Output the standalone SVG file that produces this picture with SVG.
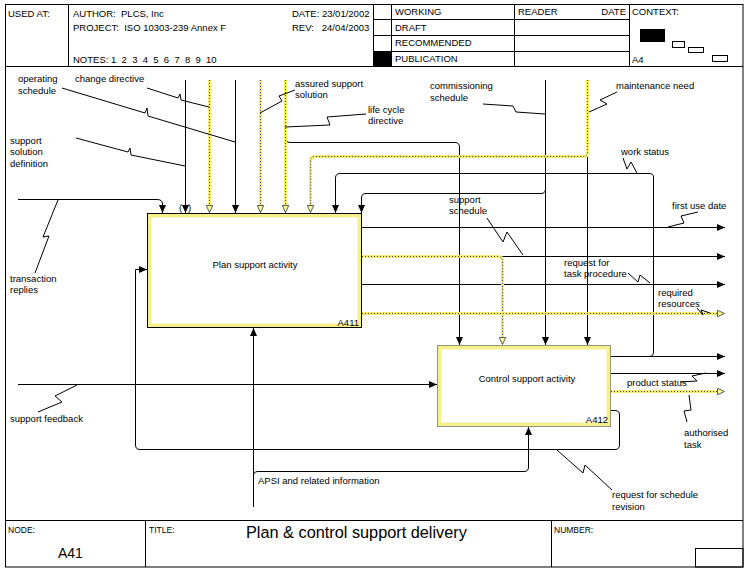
<svg xmlns="http://www.w3.org/2000/svg" width="755" height="579" viewBox="0 0 755 579">
<style>
text{font-family:"Liberation Sans",Arial,sans-serif;font-size:9.5px;fill:#000;white-space:pre}
.f{fill:none;stroke:#000;stroke-width:1}
.k{fill:none;stroke:#000;stroke-width:1}
.yb{fill:none;stroke:#f3ec70;stroke-width:3}
.yd{fill:none;stroke:#444;stroke-width:1;stroke-dasharray:1 2}
.ld{fill:none;stroke:#000;stroke-width:1}
.sm{font-size:8.5px}
.bx{font-size:9.5px;text-anchor:middle}
</style>
<defs>
<marker id="ab" viewBox="0 0 8 8" refX="8" refY="4" markerWidth="8" markerHeight="8" orient="auto" markerUnits="userSpaceOnUse"><path d="M0,0.5 L8,4 L0,7.5 z" fill="#000"/></marker>
<marker id="ay" viewBox="0 0 8 8" refX="8" refY="4" markerWidth="8" markerHeight="8" orient="auto" markerUnits="userSpaceOnUse"><path d="M0.5,0.8 L7.5,4 L0.5,7.2 z" fill="#ffff99" stroke="#333" stroke-width="0.8"/></marker>
</defs>
<rect width="755" height="579" fill="#fff"/>
<g id="frame">
<rect class="f" x="5.5" y="4.5" width="737.5" height="562.5"/>
<line class="f" x1="5" y1="66.5" x2="743" y2="66.5"/>
<line class="f" x1="68.5" y1="4" x2="68.5" y2="66"/>
<line class="f" x1="373.5" y1="4" x2="373.5" y2="66"/>
<line class="f" x1="391.5" y1="4" x2="391.5" y2="66"/>
<line class="f" x1="514.5" y1="4" x2="514.5" y2="66"/>
<line class="f" x1="629.5" y1="4" x2="629.5" y2="66"/>
<line class="f" x1="373" y1="19.5" x2="629" y2="19.5"/>
<line class="f" x1="373" y1="35.5" x2="629" y2="35.5"/>
<line class="f" x1="373" y1="51.5" x2="629" y2="51.5"/>
<rect x="374" y="52" width="17" height="14" fill="#000"/>
<rect x="640" y="29" width="25" height="13" fill="#000"/>
<rect class="f" x="672.5" y="41.5" width="12" height="6"/>
<rect class="f" x="688.5" y="47.5" width="15" height="5"/>
<rect class="f" x="712.5" y="55.5" width="15" height="6"/>
<text x="8" y="17">USED AT:</text>
<text x="73" y="17">AUTHOR:  PLCS, Inc</text>
<text x="292" y="17">DATE: 23/01/2002</text>
<text x="73" y="31">PROJECT:  ISO 10303-239 Annex F</text>
<text x="292" y="31">REV:   24/04/2003</text>
<text x="73" y="63">NOTES: 1  2  3  4  5  6  7  8  9  10</text>
<text x="395" y="15">WORKING</text>
<text x="395" y="31">DRAFT</text>
<text x="395" y="46">RECOMMENDED</text>
<text x="395" y="62">PUBLICATION</text>
<text x="518" y="15">READER</text>
<text x="626" y="15" text-anchor="end">DATE</text>
<text x="632" y="15">CONTEXT:</text>
<text x="632" y="63">A4</text>
<line class="f" x1="5" y1="520.5" x2="743" y2="520.5"/>
<line class="f" x1="145.5" y1="520" x2="145.5" y2="567"/>
<line class="f" x1="551.5" y1="520" x2="551.5" y2="567"/>
<rect class="f" x="695.5" y="548.5" width="47.5" height="18.5"/>
<text class="sm" x="8" y="533">NODE:</text>
<text x="58" y="558" style="font-size:14px">A41</text>
<text class="sm" x="149" y="533">TITLE:</text>
<text x="246" y="538" style="font-size:16.3px">Plan &amp; control support delivery</text>
<text class="sm" x="554" y="533">NUMBER:</text>
</g>
<g id="plan">
<rect x="149.5" y="215.5" width="210" height="110" fill="none" stroke="#f5f08c" stroke-width="4"/>
<rect class="f" x="147.5" y="213.5" width="214" height="114"/>
<text class="bx" x="255" y="268">Plan support activity</text>
<text x="359" y="326" text-anchor="end">A411</text>
</g>
<g id="control">
<rect x="439.5" y="347.5" width="169" height="77" fill="none" stroke="#f5f08c" stroke-width="4"/>
<rect x="437.5" y="345.5" width="173" height="81" fill="none" stroke="#333" stroke-width="1" stroke-dasharray="1 1"/>
<text class="bx" x="527" y="382">Control support activity</text>
<text x="608" y="423" text-anchor="end">A412</text>
</g>
<g id="connectors">
<path class="k" d="M18,199.5 H157 Q162.5,199.5 162.5,204 V213" marker-end="url(#ab)"/>
<path class="k" d="M185.5,80 V213" marker-end="url(#ab)"/>
<path class="k" d="M235.5,80 V213" marker-end="url(#ab)"/>
<path class="k" d="M285.5,139 Q286,142.5 290,142.5 H455 Q459.5,142.5 459.5,147 V345" marker-end="url(#ab)"/>
<path class="k" d="M649,356.5 Q653.5,356.5 653.5,352 V177 Q653.5,173.5 649,173.5 H340 Q335.5,173.5 335.5,178 V213" marker-end="url(#ab)"/>
<path class="k" d="M545.5,80 V345" marker-end="url(#ab)"/>
<path class="k" d="M545.5,189 Q545.5,193.5 541,193.5 H366 Q361.5,193.5 361.5,198 V213" marker-end="url(#ab)"/>
<path class="k" d="M587.5,157 V345" marker-end="url(#ab)"/>
<path class="k" d="M611,410.5 H615 Q619.5,410.5 619.5,415 V445 Q619.5,449.5 615,449.5 H140 Q135.5,449.5 135.5,445 V269.5 H147" marker-end="url(#ab)"/>
<path class="k" d="M253.5,507 V328" marker-end="url(#ab)"/>
<path class="k" d="M253.5,476 Q253.5,471.5 258,471.5 H524 Q528.5,471.5 528.5,467 V427" marker-end="url(#ab)"/>
<path class="k" d="M18,384.5 H437" marker-end="url(#ab)"/>
<path class="k" d="M362,227.5 H725" marker-end="url(#ab)"/>
<path class="k" d="M502,256.5 H725" marker-end="url(#ab)"/>
<path class="k" d="M362,284.5 H725" marker-end="url(#ab)"/>
<path class="k" d="M611,356.5 H725" marker-end="url(#ab)"/>
<path class="k" d="M611,373.5 H725" marker-end="url(#ab)"/>
<path class="yb" d="M209.5,80 V205"/>
<path class="yd" d="M209.5,80 V213" marker-end="url(#ay)"/>
<path class="yb" d="M260.5,80 V205"/>
<path class="yd" d="M260.5,80 V213" marker-end="url(#ay)"/>
<path class="yb" d="M285.5,80 V205"/>
<path class="yd" d="M285.5,80 V213" marker-end="url(#ay)"/>
<path class="yb" d="M587.5,80 V152 Q587.5,156.5 583,156.5 H315 Q310.5,156.5 310.5,161 V205"/>
<path class="yd" d="M587.5,80 V152 Q587.5,156.5 583,156.5 H315 Q310.5,156.5 310.5,161 V213" marker-end="url(#ay)"/>
<path class="yb" d="M362,256.5 H498 Q502.5,256.5 502.5,261 V337"/>
<path class="yd" d="M362,256.5 H498 Q502.5,256.5 502.5,261 V345" marker-end="url(#ay)"/>
<path class="yb" d="M362,313.5 H717"/>
<path class="yd" d="M362,313.5 H725" marker-end="url(#ay)"/>
<path class="yb" d="M611,391.5 H717"/>
<path class="yd" d="M611,391.5 H725" marker-end="url(#ay)"/>
</g>
<g id="labels">
<text x="179" y="211">(</text>
<text x="188" y="211">)</text>
<polyline class="ld" points="147,88 178,98 180,94 181,100 209,107"/>
<polyline class="ld" points="62,88 145,113 147,108 148,116 235,142"/>
<polyline class="ld" points="76,138 128,152 130,148 131,155 185,166"/>
<polyline class="ld" points="295,90 279,96 282,101 260,113"/>
<polyline class="ld" points="366,114 327,117 330,125 285,127"/>
<polyline class="ld" points="483,104 513,106 516,112 545,114"/>
<polyline class="ld" points="617,92 600,100 607,104 589,112"/>
<polyline class="ld" points="623,158 627,169 631,162 637,173"/>
<polyline class="ld" points="487,218 503,242 507,232 523,255"/>
<polyline class="ld" points="698,212 681,216 684,223 668,227"/>
<polyline class="ld" points="628,273 638,282 640,275 650,283"/>
<polyline class="ld" points="697,308 703,315 701,310 710,313"/>
<polyline class="ld" points="680,382 697,381 692,376 706,373"/>
<polyline class="ld" points="687,422 684,411 691,410 689,395"/>
<polyline class="ld" points="35,273 49,236 43,237 58,200"/>
<polyline class="ld" points="38,412 62,402 55,396 77,385"/>
<polyline class="ld" points="557,450 583,473 585,465 612,490"/>
<text x="18" y="82">operating</text>
<text x="18" y="94">schedule</text>
<text x="75" y="82">change directive</text>
<text x="10" y="144">support</text>
<text x="10" y="155">solution</text>
<text x="10" y="167">definition</text>
<text x="295" y="87">assured support</text>
<text x="295" y="98">solution</text>
<text x="368" y="113">life cycle</text>
<text x="368" y="124">directive</text>
<text x="430" y="89">commissioning</text>
<text x="430" y="101">schedule</text>
<text x="616" y="89">maintenance need</text>
<text x="621" y="155">work status</text>
<text x="449" y="203">support</text>
<text x="449" y="214">schedule</text>
<text x="672" y="209">first use date</text>
<text x="564" y="266">request for</text>
<text x="564" y="277">task procedure</text>
<text x="658" y="296">required</text>
<text x="658" y="307">resources</text>
<text x="627" y="386">product status</text>
<text x="684" y="436">authorised</text>
<text x="684" y="448">task</text>
<text x="10" y="282">transaction</text>
<text x="10" y="293">replies</text>
<text x="10" y="422">support feedback</text>
<text x="258" y="484">APSI and related information</text>
<text x="612" y="498">request for schedule</text>
<text x="612" y="510">revision</text>
</g>
</svg>
